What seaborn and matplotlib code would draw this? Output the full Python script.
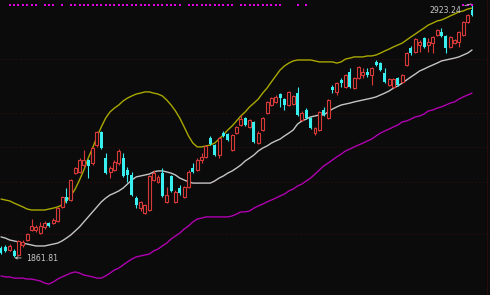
import numpy as np
import pandas as pd
import matplotlib
matplotlib.use("Agg")
import matplotlib.pyplot as plt
import matplotlib.transforms as mtransforms
import seaborn as sns

# ---------------- data ----------------
opens = [1898,1903,1890,1886,1869,1911,1932,1974,1974,1961,
         1987,2003,2003,2012,2071,2113,2100,2213,2218,2247,
         2268,2255,2331,2386,2276,2218,2226,2255,2276,2226,
         2205,2108,2066,2045,2058,2184,2176,2213,2092,2201,
         2092,2150,2113,2155,2234,2226,2268,2281,2360,2331,
         2289,2381,2377,2310,2381,2415,2444,2407,2428,2339,
         2394,2465,2499,2512,2545,2524,2499,2503,2549,2436,
         2478,2444,2381,2394,2478,2444,2575,2554,2604,2575,
         2638,2570,2612,2625,2638,2625,2680,2675,2633,2583,
         2575,2612,2596,2667,2738,2722,2751,2780,2751,2759,
         2793,2806,2789,2743,2759,2764,2793,2848,2898]
highs = [1907,1911,1915,1894,1932,1932,1961,2020,1995,2008,
         2012,2008,2024,2071,2117,2150,2188,2239,2276,2310,
         2272,2323,2390,2390,2297,2243,2268,2314,2297,2239,
         2218,2117,2096,2083,2205,2226,2205,2234,2155,2205,
         2142,2163,2159,2226,2255,2276,2297,2331,2369,2335,
         2365,2390,2381,2377,2411,2457,2449,2440,2432,2390,
         2449,2516,2533,2541,2549,2528,2558,2541,2575,2474,
         2486,2449,2407,2474,2491,2524,2583,2596,2612,2629,
         2654,2617,2663,2654,2654,2659,2688,2680,2654,2612,
         2612,2617,2629,2722,2747,2780,2772,2785,2780,2789,
         2818,2822,2793,2789,2776,2810,2852,2881,2923.24]
lows = [1873,1882,1886,1861.81,1865,1903,1928,1970,1966,1957,
        1978,1987,1999,2008,2066,2087,2096,2209,2213,2239,
        2192,2247,2323,2314,2209,2192,2222,2247,2197,2176,
        2117,2066,2054,2041,2054,2180,2171,2113,2087,2134,
        2087,2121,2108,2150,2213,2222,2255,2276,2331,2285,
        2276,2365,2348,2306,2377,2411,2411,2402,2339,2335,
        2390,2461,2495,2507,2491,2478,2495,2499,2453,2432,
        2440,2398,2373,2390,2453,2440,2549,2541,2575,2570,
        2570,2566,2608,2612,2617,2583,2663,2642,2591,2579,
        2570,2579,2591,2663,2709,2717,2722,2738,2722,2717,
        2789,2785,2717,2738,2755,2743,2789,2843,2873]
closes = [1877,1886,1907,1865,1928,1924,1957,1991,1987,1991,
          2003,1991,2016,2066,2113,2096,2184,2234,2268,2268,
          2243,2318,2386,2318,2213,2234,2260,2306,2201,2205,
          2121,2079,2092,2079,2201,2213,2197,2117,2121,2138,
          2134,2129,2155,2218,2218,2268,2281,2327,2335,2289,
          2360,2369,2352,2373,2407,2440,2415,2436,2344,2381,
          2444,2512,2528,2533,2528,2499,2554,2537,2457,2465,
          2444,2402,2402,2470,2457,2520,2562,2591,2591,2625,
          2575,2612,2659,2638,2625,2654,2667,2646,2596,2608,
          2608,2583,2625,2717,2717,2776,2764,2743,2764,2785,
          2814,2789,2738,2785,2772,2806,2848,2877,2877]

upper = [2104,2100,2096,2087,2079,2071,2062,2058,2058,2058,
         2058,2062,2066,2071,2079,2096,2117,2146,2184,2226,
         2276,2318,2365,2407,2444,2470,2486,2499,2516,2528,
         2537,2545,2549,2554,2554,2549,2545,2537,2520,2499,
         2474,2444,2407,2369,2339,2323,2323,2327,2331,2339,
         2356,2373,2394,2411,2432,2453,2470,2491,2507,2524,
         2549,2570,2596,2621,2646,2663,2675,2684,2688,2688,
         2688,2688,2684,2680,2680,2680,2680,2675,2680,2692,
         2696,2701,2701,2701,2705,2705,2709,2717,2726,2734,
         2743,2751,2759,2772,2785,2797,2810,2822,2835,2843,
         2852,2856,2864,2873,2881,2890,2894,2902,2906]
middle = [1945,1940,1932,1928,1924,1919,1915,1911,1907,1907,
          1907,1911,1915,1919,1928,1940,1953,1970,1987,2008,
          2029,2050,2071,2092,2108,2121,2129,2138,2150,2167,
          2184,2197,2201,2205,2209,2218,2222,2222,2218,2213,
          2205,2192,2184,2176,2171,2171,2171,2171,2171,2180,
          2192,2201,2213,2222,2234,2247,2264,2276,2289,2306,
          2318,2327,2339,2348,2356,2369,2381,2394,2419,2432,
          2440,2449,2453,2457,2457,2470,2482,2491,2499,2503,
          2507,2512,2516,2520,2524,2528,2533,2541,2549,2558,
          2570,2579,2591,2604,2617,2629,2642,2650,2659,2667,
          2675,2684,2688,2692,2696,2701,2709,2717,2730]
lower = [1781,1777,1777,1772,1772,1772,1768,1768,1764,1760,
         1751,1747,1756,1768,1777,1785,1793,1798,1793,1785,
         1781,1777,1772,1772,1781,1793,1806,1814,1827,1840,
         1852,1861,1865,1869,1873,1886,1894,1907,1919,1936,
         1949,1961,1978,1991,2008,2020,2024,2029,2029,2029,
         2029,2029,2029,2033,2041,2050,2050,2054,2066,2075,
         2083,2092,2100,2108,2117,2125,2138,2146,2159,2167,
         2180,2192,2209,2226,2243,2255,2268,2281,2293,2306,
         2314,2323,2331,2339,2348,2356,2369,2381,2390,2398,
         2407,2415,2428,2432,2440,2449,2453,2461,2474,2478,
         2486,2491,2499,2507,2512,2524,2533,2541,2549]

signal_idx = [2,3,4,5,6,7,8,10,11,12,14] + list(range(16, 42)) + \
             list(range(43, 54)) + list(range(55, 65)) + [68, 70, 106, 107, 108]
grid_levels = [2692, 2465, 2323, 2176, 1957]
high_label = "2923.24"
low_label = "1861.81"

# ---------------- style ----------------
BG = "#0b0b0b"
RED = "#d83a3a"
CYAN = "#38eeee"
YEL = "#a8a800"
WHT = "#c4c4c4"
MAG = "#b000b0"
TXT = "#c8c8c8"
GRID = "#2a0b0b"

sns.set_theme(style="dark")
plt.rcParams["font.family"] = ["DejaVu Sans"]

df = pd.DataFrame({"i": np.arange(len(opens)), "open": opens, "high": highs,
                   "low": lows, "close": closes,
                   "upper": upper, "middle": middle, "lower": lower})

fig = plt.figure(figsize=(4.9, 2.95), dpi=100, facecolor=BG)
ax = fig.add_axes([0, 0, 1, 1])
ax.set_facecolor(BG)
ax.set_xlim(-0.23, 112.13)
ax.set_ylim(1701, 2940)
for s in ax.spines.values():
    s.set_visible(False)
ax.set_xticks([]); ax.set_yticks([])
ax.grid(False)

for g in grid_levels:
    ax.axhline(g, color=GRID, lw=0.7, ls=(0, (2, 2)), zorder=1)
ax.axvline(111.4, color=GRID, lw=0.8, zorder=1)

# bands
sns.lineplot(data=df, x="i", y="upper", color=YEL, lw=1.0, ax=ax, zorder=2)
sns.lineplot(data=df, x="i", y="middle", color=WHT, lw=1.0, ax=ax, zorder=2)
sns.lineplot(data=df, x="i", y="lower", color=MAG, lw=1.0, ax=ax, zorder=2)

# candles
up = df[df.close > df.open]
dn = df[df.close <= df.open]
W = 0.68
ax.vlines(up.i, up.low, up.open, color=RED, lw=0.8, zorder=3)
ax.vlines(up.i, up.close, up.high, color=RED, lw=0.8, zorder=3)
ax.bar(up.i, up.close - up.open, bottom=up.open, width=W, facecolor=BG,
       edgecolor=RED, linewidth=0.8, zorder=4)
ax.vlines(dn.i, dn.low, dn.high, color=CYAN, lw=0.8, zorder=3)
ax.bar(dn.i, (dn.open - dn.close).clip(lower=3), bottom=dn.close, width=W,
       color=CYAN, linewidth=0, zorder=4)

# top signal markers
trans = mtransforms.blended_transform_factory(ax.transData, ax.transAxes)
ax.scatter(signal_idx, [0.983] * len(signal_idx), marker="s", s=3.5,
           color="#e000e0", linewidths=0, transform=trans, zorder=5)

# labels
imax = int(np.argmax(highs)); imin = int(np.argmin(lows))
ax.annotate(high_label, xy=(imax - 0.2, highs[imax]), xytext=(98.3, 2896),
            color=TXT, fontsize=5.6, va="center", ha="left",
            arrowprops=dict(arrowstyle="-", color=TXT, lw=0.6,
                            shrinkA=0, shrinkB=0), zorder=6)
ax.annotate(low_label, xy=(imin + 0.1, lows[imin] - 5), xytext=(5.7, 1856),
            color=TXT, fontsize=5.6, va="center", ha="left",
            arrowprops=dict(arrowstyle="->", color=TXT, lw=0.6,
                            mutation_scale=4, shrinkA=1, shrinkB=0), zorder=6)

fig.savefig("out.png", dpi=100, facecolor=BG)
